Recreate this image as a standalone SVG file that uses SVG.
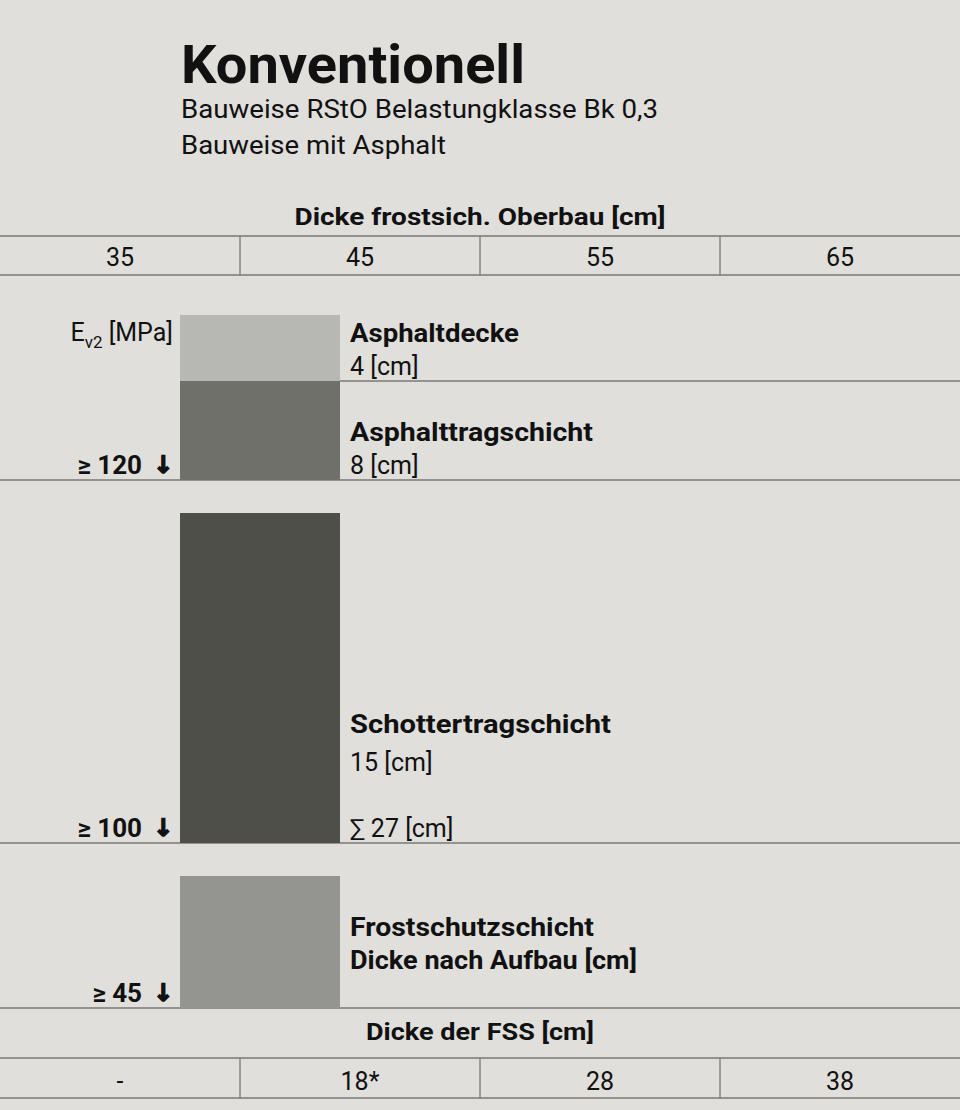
<svg xmlns="http://www.w3.org/2000/svg" width="960" height="1110" viewBox="0 0 960 1110">
<style>
text{font-family:Roboto,"Liberation Sans",sans-serif;fill:#111;}
.b{font-weight:700;}
.h{font-size:24px;}
.n{font-size:25px;}
.l{font-size:25px;}
.g{font-size:26px;font-weight:700;text-anchor:end;}
.a{font-family:"DejaVu Sans",sans-serif;font-size:24px;font-weight:700;text-anchor:middle;fill:#111;stroke:#111;stroke-width:1.4;}
.line{stroke:#7a7a76;stroke-width:1.3;fill:none;}
.c{text-anchor:middle;}
.r{text-anchor:end;}
</style>
<rect width="960" height="1110" fill="#e0dfdb"/>
<g id="title">
<text x="181" y="83" class="b" style="font-size:54px" textLength="344" lengthAdjust="spacingAndGlyphs">Konventionell</text>
<text x="181" y="118" style="font-size:25px" textLength="477" lengthAdjust="spacingAndGlyphs">Bauweise RStO Belastungklasse Bk 0,3</text>
<text x="181" y="154" style="font-size:25px" textLength="265" lengthAdjust="spacingAndGlyphs">Bauweise mit Asphalt</text>
</g>
<g id="connectors">
<path class="line" d="M0 236H960M0 275H960M240 236V275M480 236V275M720 236V275"/>
<path class="line" d="M340 381H960M0 480H960M0 843H960M0 1008H960"/>
<path class="line" d="M0 1058H960M0 1098H960M240 1058V1098M480 1058V1098M720 1058V1098"/>
</g>
<g id="header-top">
<text x="480" y="225" class="b h c" textLength="371" lengthAdjust="spacingAndGlyphs">Dicke frostsich. Oberbau [cm]</text>
<text x="120" y="266" class="n c">35</text>
<text x="360" y="266" class="n c">45</text>
<text x="600" y="266" class="n c">55</text>
<text x="840" y="266" class="n c">65</text>
</g>
<g id="asphaltdecke">
<rect x="180" y="315" width="160" height="66" fill="#b7b7b4"/>
<text x="350" y="342" class="b l" textLength="169" lengthAdjust="spacingAndGlyphs">Asphaltdecke</text>
<text x="350" y="375" class="l">4 [cm]</text>
<text x="173" y="341" class="l r">E<tspan font-size="17" dy="7">v2</tspan><tspan dy="-7"> [MPa]</tspan></text>
</g>
<g id="asphalttragschicht">
<rect x="180" y="381" width="160" height="99" fill="#6f706a"/>
<text x="350" y="441" class="b l" textLength="243" lengthAdjust="spacingAndGlyphs">Asphalttragschicht</text>
<text x="350" y="474" class="l">8 [cm]</text>
<text x="142" y="474" class="g">≥ 120</text>
<text x="163" y="473" class="a">↓</text>
</g>
<g id="schottertragschicht">
<rect x="180" y="513" width="160" height="330" fill="#4e4f48"/>
<text x="350" y="733" class="b l" textLength="261" lengthAdjust="spacingAndGlyphs">Schottertragschicht</text>
<text x="350" y="771" class="l">15 [cm]</text>
<text x="350" y="837" class="l">∑ 27 [cm]</text>
<text x="142" y="837" class="g">≥ 100</text>
<text x="163" y="836" class="a">↓</text>
</g>
<g id="frostschutzschicht">
<rect x="180" y="876" width="160" height="132" fill="#949490"/>
<text x="350" y="936" class="b l" textLength="244" lengthAdjust="spacingAndGlyphs">Frostschutzschicht</text>
<text x="350" y="969" class="b l" textLength="287" lengthAdjust="spacingAndGlyphs">Dicke nach Aufbau [cm]</text>
<text x="142" y="1002" class="g">≥ 45</text>
<text x="163" y="1001" class="a">↓</text>
</g>
<g id="header-bottom">
<text x="480" y="1040" class="b h c" textLength="228" lengthAdjust="spacingAndGlyphs">Dicke der FSS [cm]</text>
<text x="120" y="1090" class="n c">-</text>
<text x="360" y="1090" class="n c">18*</text>
<text x="600" y="1090" class="n c">28</text>
<text x="840" y="1090" class="n c">38</text>
</g>
</svg>
